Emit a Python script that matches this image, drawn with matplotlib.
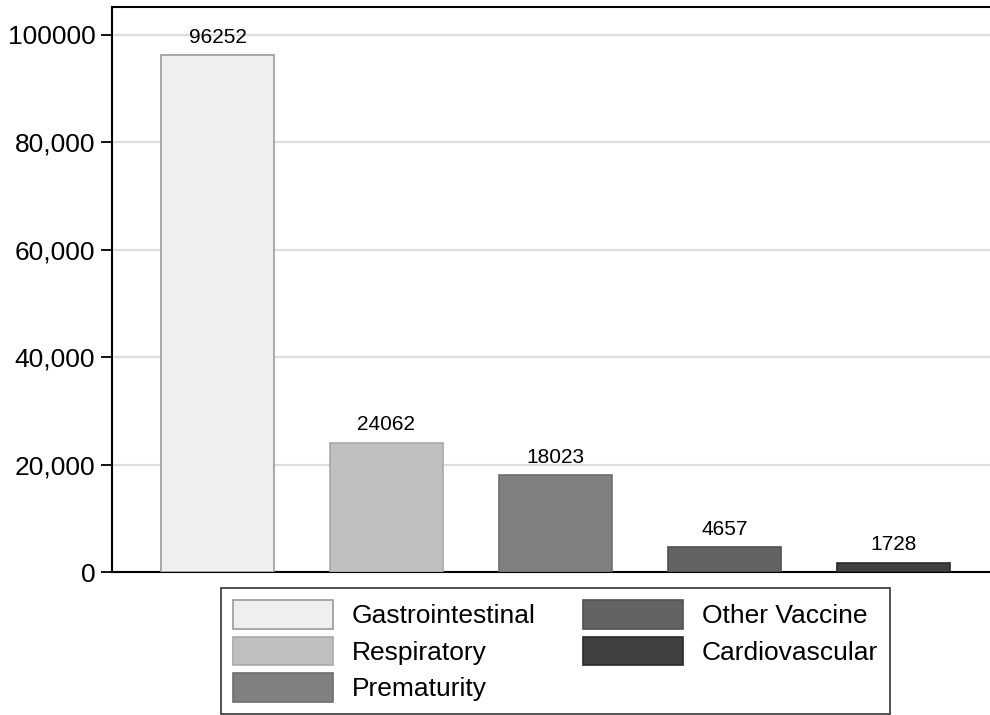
import matplotlib.pyplot as plt

plt.rcParams['font.family'] = ['Liberation Sans', 'DejaVu Sans']

# données
categories = ['Gastrointestinal', 'Respiratory', 'Prematurity', 'Other Vaccine', 'Cardiovascular']
valeurs = [96252, 24062, 18023, 4657, 1728]
couleurs = ['#efefef', '#bfbfbf', '#808080', '#636363', '#404040']
bords = ['#9a9a9a', '#a8a8a8', '#6e6e6e', '#505050', '#2a2a2a']
yticks = [0, 20000, 40000, 60000, 80000, 100000]
yticklabels = ['0', '20,000', '40,000', '60,000', '80,000', '100000']

fig = plt.figure(figsize=(9.9, 7.15), dpi=100)
ax = fig.add_axes([112 / 990, 1 - 572 / 715, 1 - 112 / 990, (572 - 7) / 715])

x = list(range(len(categories)))
barres = ax.bar(x, valeurs, width=113 / 169, color=couleurs, edgecolor=bords,
                linewidth=1.2, label=categories, zorder=3)

# étiquettes au-dessus des barres
for xi, v in zip(x, valeurs):
    ax.annotate(str(v), (xi, v), xytext=(0, 6), textcoords='offset points',
                ha='center', va='bottom', fontsize=15)

ax.set_xlim(-0.624, 4.571)
ax.set_ylim(0, 105214)
ax.set_xticks([])
ax.set_yticks(yticks)
ax.set_yticklabels(yticklabels)
ax.tick_params(axis='y', labelsize=19, length=8, width=1.3, pad=4)
ax.yaxis.grid(True, color='#dddddd', linewidth=1.6, zorder=0)
ax.set_axisbelow(True)

for s in ['left', 'bottom', 'top']:
    ax.spines[s].set_linewidth(1.5)
ax.spines['right'].set_visible(False)

# légende
leg = fig.legend(barres, categories, ncol=2, loc='upper center',
                 bbox_to_anchor=(555.5 / 990, 1 - 588 / 715), borderaxespad=0,
                 fontsize=19, frameon=True, fancybox=False, edgecolor='black',
                 handlelength=3.8, handleheight=1.3, labelspacing=0.3,
                 columnspacing=1.8, handletextpad=0.7, borderpad=0.45)
leg.get_frame().set_linewidth(1.2)

plt.savefig('out.png', dpi=100)
